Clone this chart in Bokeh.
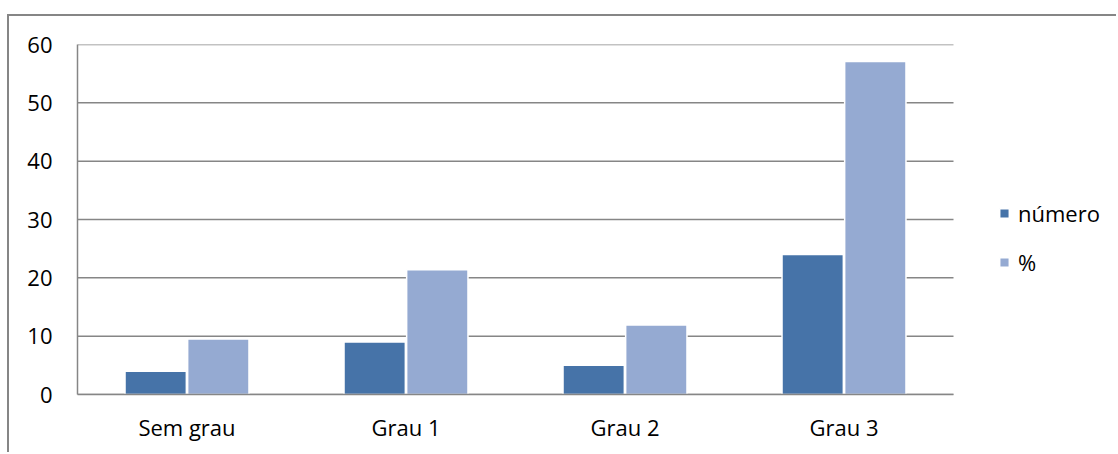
from bokeh.plotting import figure
from bokeh.models import Range1d, Legend, LegendItem, ColumnDataSource, FixedTicker
from bokeh.embed import file_html
from bokeh.resources import INLINE

categories = ["Sem grau", "Grau 1", "Grau 2", "Grau 3"]
numero = [4, 9, 5, 24]
percent = [9.5, 21.4, 11.9, 57.1]
y_ticks = [0, 10, 20, 30, 40, 50, 60]

FONT = "Open Sans"
GRID = "#868686"
C_NUM = "#4673A8"
C_PCT = "#95AAD2"

n = len(categories)
xpos = [i + 0.5 for i in range(n)]
OFF = 0.143
source = ColumnDataSource(dict(
    x_num=[x - OFF for x in xpos], x_pct=[x + OFF for x in xpos],
    numero=numero, percent=percent))

# frame spans 1041 px; the 4 categories take 876 px of it (219 px each)
p = figure(width=1109, height=438, x_range=Range1d(0, 1041 / 219),
           y_range=Range1d(0, 60), output_backend="svg", toolbar_location=None,
           min_border_left=68, min_border_right=0, min_border_top=28,
           min_border_bottom=60)
p.outline_line_color = None
p.background_fill_color = "white"
p.border_fill_color = "white"
p.styles = {"border-left": "2px solid #868686", "border-top": "2px solid #868686",
            "margin-left": "7px", "margin-top": "14px"}

# horizontal gridlines limited to the plot area (categories span)
p.segment(x0=[0] * len(y_ticks), x1=[n] * len(y_ticks), y0=y_ticks, y1=y_ticks,
          line_color=GRID, line_width=1.5, level="underlay")

r1 = p.vbar(x="x_num", top="numero", width=0.28, source=source,
            fill_color=C_NUM, line_color="white", line_width=1.5)
r2 = p.vbar(x="x_pct", top="percent", width=0.28, source=source,
            fill_color=C_PCT, line_color="white", line_width=1.5)

# axes
p.yaxis.ticker = y_ticks
p.yaxis.axis_line_color = GRID
p.yaxis.axis_line_width = 1.5
p.yaxis.major_tick_line_color = None
p.yaxis.minor_tick_line_color = None
p.yaxis.major_label_standoff = 19
p.yaxis.major_label_text_font = FONT
p.yaxis.major_label_text_font_size = "22px"
p.yaxis.major_label_text_color = "black"

p.xaxis.ticker = FixedTicker(ticks=xpos)
p.xaxis.major_label_overrides = {x: c for x, c in zip(xpos, categories)}
p.xaxis.bounds = (0, n)
p.xaxis.axis_line_color = GRID
p.xaxis.axis_line_width = 1.5
p.xaxis.major_tick_line_color = None
p.xaxis.minor_tick_line_color = None
p.xaxis.major_label_standoff = 11
p.xaxis.major_label_text_font = FONT
p.xaxis.major_label_text_font_size = "22px"
p.xaxis.major_label_text_color = "black"

p.xgrid.grid_line_color = None
p.ygrid.grid_line_color = None

legend = Legend(items=[LegendItem(label="número", renderers=[r1]),
                       LegendItem(label="%", renderers=[r2])],
                location=(921, 117), orientation="vertical")
legend.padding = 0
legend.margin = 0
legend.border_line_color = None
legend.background_fill_alpha = 0
legend.glyph_width = 12
legend.glyph_height = 12
legend.label_height = 20
legend.spacing = 19
legend.label_standoff = 8
legend.label_text_font = FONT
legend.label_text_font_size = "22px"
legend.label_text_color = "black"
p.add_layout(legend, "center")

open("out.html", "w").write(file_html(p, INLINE))
